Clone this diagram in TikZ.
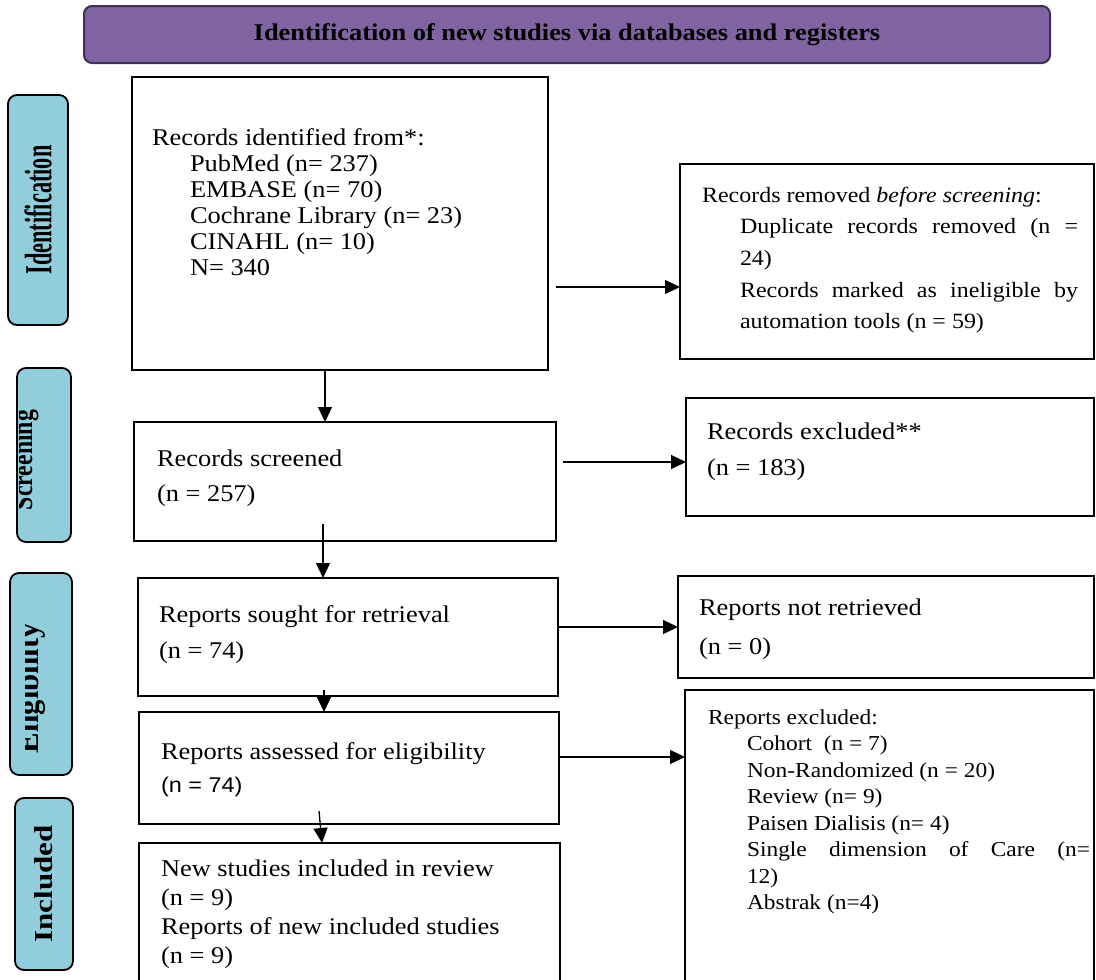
\documentclass[tikz,border=0pt]{standalone}
\usepackage{fontspec}
\setmainfont{Liberation Serif}[FakeStretch=1.1]
\newfontfamily\arialfont{Liberation Sans}[FakeStretch=1.1]
\usepackage{graphicx}
\usetikzlibrary{arrows.meta,calc}
\definecolor{bannerfill}{HTML}{8064A2}
\definecolor{banneredge}{HTML}{3F3151}
\definecolor{stagefill}{HTML}{92CDDC}
\tikzstyle{line} = [draw, line width=1.3pt, -{Triangle[length=15pt,width=14pt]}]
\tikzstyle{box} = [rectangle, draw=black, line width=2.4pt, fill=white, inner sep=0pt, outer sep=0pt, anchor=north west]
\tikzstyle{stage} = [rectangle, rounded corners=9pt, draw=black, line width=1.8pt, fill=stagefill, inner sep=0pt]
\tikzstyle{banner} = [rectangle, rounded corners=8pt, draw=banneredge, line width=2pt, fill=bannerfill, font={\bfseries\fontsize{24}{28}\selectfont}]
\newcommand{\boxtext}[6]{%
  \begin{minipage}[t][#2pt][t]{#1pt}\fontsize{#4}{#5}\selectfont\raggedright\parindent=0pt\rule{0pt}{#3pt}#6\end{minipage}}
\newcommand{\jline}[2]{\makebox[#1pt][s]{#2}}
\newcommand{\stagetext}[3]{\resizebox{#1pt}{#2pt}{\bfseries #3}}

\begin{document}
\begin{tikzpicture}[x=1pt, y=-1pt]
      \useasboundingbox (0,0) rectangle (1096,980);
      \fill [white] (0,0) rectangle (1096,980);
      \node [banner, minimum width=966pt, minimum height=57pt] (title) at (567,34.5)
        {Identification of new studies via databases and registers};

      \node [stage, minimum width=230pt, minimum height=60pt, rotate=90] (identlbl) at (38,210)
        {\stagetext{129}{27}{Identification}};
      \node [stage, minimum width=174pt, minimum height=54pt, rotate=90] (screenlbl) at (44,455) {};
      \begin{scope}
        \clip (19,368) rectangle (71,542);
        \node [rotate=90, anchor=base, inner sep=0pt] (screentxt) at (32,460)
          {\stagetext{100}{20}{Screening}};
      \end{scope}
      \node [stage, minimum width=202pt, minimum height=62pt, rotate=90] (eliglbl) at (41,674) {};
      \begin{scope}
        \clip (25,573) rectangle (72,775);
        \node [rotate=90, anchor=base, inner sep=0pt] (eligtxt) at (38,688)
          {\stagetext{130}{22}{Eligibility}};
      \end{scope}
      \node [stage, minimum width=172pt, minimum height=58pt, rotate=90] (incllbl) at (44,884)
        {\stagetext{117}{18}{Included}};

      \node [box] (ident) at (132,77)
        {\boxtext{416}{293}{68}{24}{26}{%
          \hspace*{20pt}Records identified from*:\\
          \hspace*{58pt}PubMed (n= 237)\\
          \hspace*{58pt}EMBASE (n= 70)\\
          \hspace*{58pt}Cochrane Library (n= 23)\\
          \hspace*{58pt}CINAHL (n= 10)\\
          \hspace*{58pt}N= 340}};
      \node [box] (removed) at (680,164)
        {\boxtext{414}{195}{38}{21.8}{31.7}{%
          \hspace*{22pt}Records removed \textit{before screening}:\\
          \hspace*{60pt}\jline{338}{Duplicate records removed (n =}\\
          \hspace*{60pt}24)\\
          \hspace*{60pt}\jline{338}{Records marked as ineligible by}\\
          \hspace*{60pt}automation tools (n = 59)}};
      \node [box] (screened) at (134,422)
        {\boxtext{422}{119}{44}{24}{35}{%
          \hspace*{23pt}Records screened\\
          \hspace*{23pt}(n = 257)}};
      \node [box] (excluded) at (686,398)
        {\boxtext{408}{118}{41}{24}{36}{%
          \hspace*{21pt}Records excluded**\\
          \hspace*{21pt}(n = 183)}};
      \node [box] (sought) at (138,578)
        {\boxtext{420}{118}{44}{24}{36}{%
          \hspace*{21pt}Reports sought for retrieval\\
          \hspace*{21pt}(n = 74)}};
      \node [box] (notretr) at (678,576)
        {\boxtext{416}{102}{39}{24}{39}{%
          \hspace*{21pt}Reports not retrieved\\
          \hspace*{21pt}(n = 0)}};
      \node [box] (assessed) at (139,712)
        {\boxtext{420}{112}{47}{24}{33}{%
          \hspace*{22pt}Reports assessed for eligibility\\
          \hspace*{22pt}{\arialfont\fontsize{21.3}{33}\selectfont (n = 74)}}};
      \node [box] (included) at (139,843)
        {\boxtext{421}{141}{33}{24}{29}{%
          \hspace*{22pt}New studies included in review\\
          \hspace*{22pt}(n = 9)\\
          \hspace*{22pt}Reports of new included studies\\
          \hspace*{22pt}(n = 9)}};
      \node [box] (repexcl) at (685,690)
        {\boxtext{409}{294}{34}{21.3}{26.5}{%
          \hspace*{23pt}Reports excluded:\\
          \hspace*{62pt}Cohort\ \ (n = 7)\\
          \hspace*{62pt}Non-Randomized (n = 20)\\
          \hspace*{62pt}Review (n= 9)\\
          \hspace*{62pt}Paisen Dialisis (n= 4)\\
          \hspace*{62pt}\jline{343}{Single dimension of Care (n=}\\
          \hspace*{62pt}12)\\
          \hspace*{62pt}Abstrak (n=4)}};

      \path [line] let \p0=($(ident.east)+(8,63.5)$), \p1=(removed.west) in
        (\x0,\y0) -- (\x1,\y0);
      \path [line] let \p0=($(ident.south)+(-15,0)$), \p1=(screened.north) in
        (\x0,\y0) -- (\x0,\y1);
      \path [line] let \p0=($(screened.east)+(7,-19.5)$), \p1=(excluded.west) in
        (\x0,\y0) -- (\x1,\y0);
      \path [line] let \p0=($(screened.south)+(-22,-17)$), \p1=(sought.north) in
        (\x0,\y0) -- (\x0,\y1);
      \path [line] let \p0=($(sought.east)+(0,-10)$), \p1=(notretr.west) in
        (\x0,\y0) -- (\x1,\y0);
      \path [line] let \p0=($(sought.south)+(-24,-6)$), \p1=(assessed.north) in
        (\x0,\y0) -- (\x0,\y1);
      \path [line] let \p0=($(assessed.east)+(1,-11)$), \p1=(repexcl.west) in
        (\x0,\y0) -- (\x1,\y0);
      \path [line] ($(assessed.south)+(-30,-13)$) -- ($(included.north)+(-27.5,0)$);
\end{tikzpicture}
\end{document}
